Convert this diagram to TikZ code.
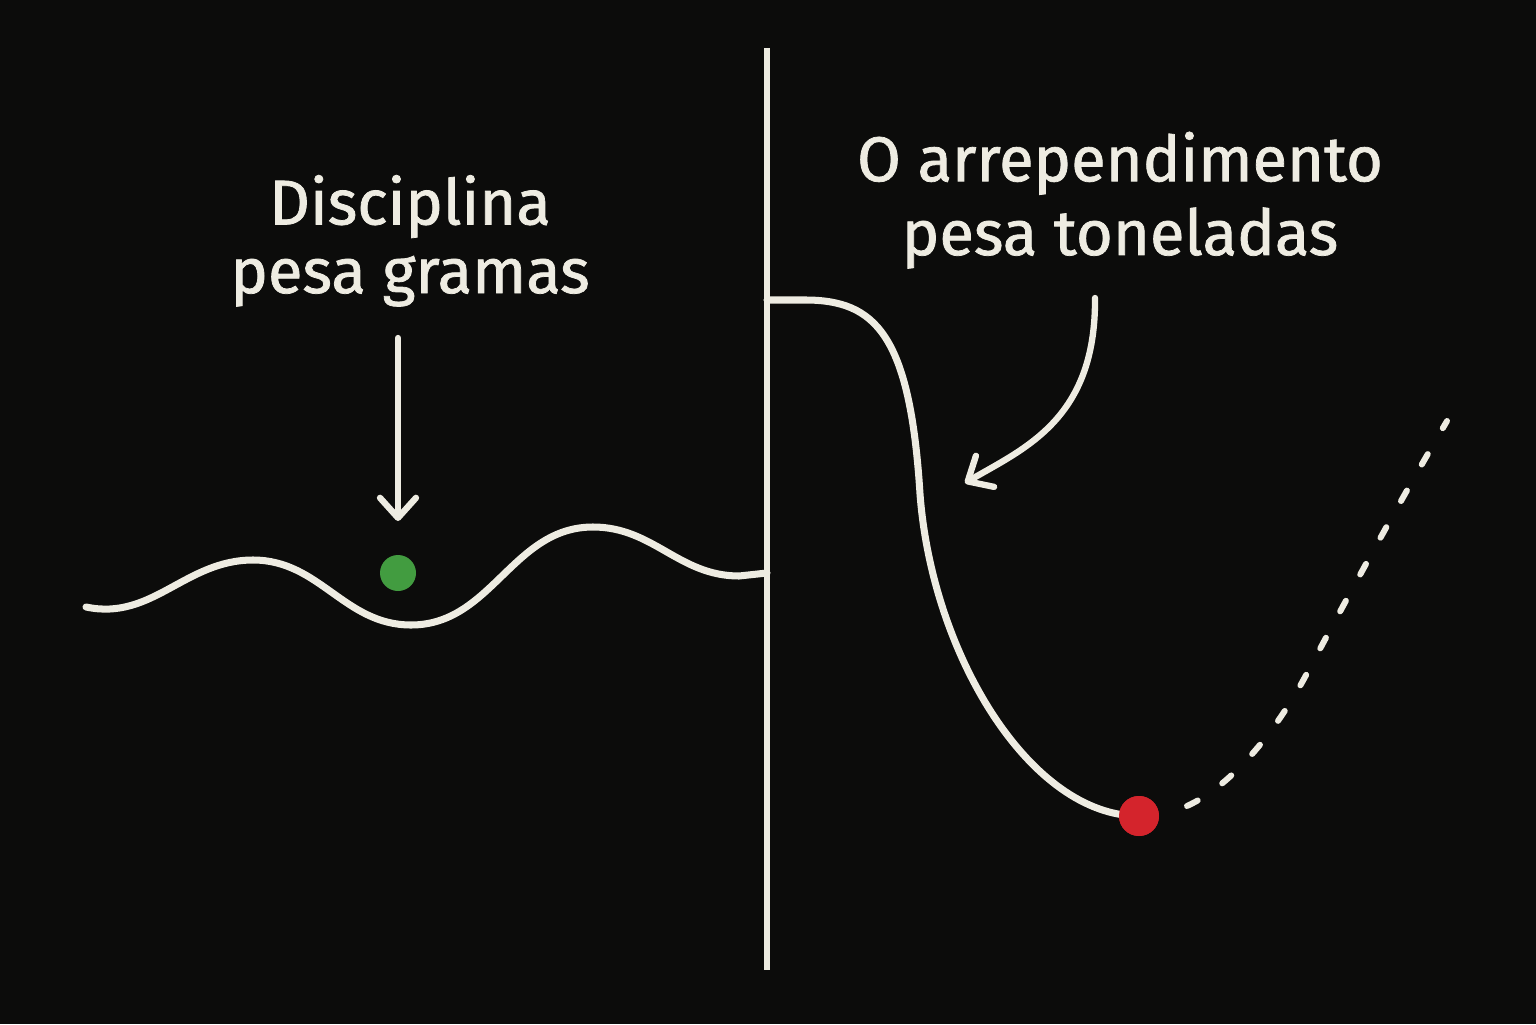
\documentclass[tikz,border=0pt]{standalone}
\usepackage{fontspec}
\setmainfont{Fira Sans}[FakeBold=1.2]
\usepackage{xcolor}
\usetikzlibrary{arrows.meta, positioning}

\definecolor{bgdark}{RGB}{12,12,11}
\definecolor{chalk}{RGB}{238,236,226}
\definecolor{okgreen}{RGB}{66,156,64}
\definecolor{badred}{RGB}{212,36,44}

\begin{document}
\begin{tikzpicture}[
    curve/.style={draw=chalk, line width=2pt, line cap=round, line join=round},
    divider/.style={draw=chalk, line width=1.6pt},
    pointer/.style={draw=chalk, line width=1.8pt, line cap=round, line join=round,
        -{Straight Barb[length=2mm, width=3.6mm, line cap=round, line join=round]}},
    future/.style={draw=chalk, line width=1.7pt, line cap=round, dash pattern=on 0.12cm off 0.30cm},
    caption/.style={text=chalk, align=center, font=\fontsize{18}{19.5}\selectfont, inner sep=0pt},
    dot/.style={circle, inner sep=0pt, minimum size=#1}
]
% background and page size
\fill[bgdark] (0,0) rectangle (15.36,10.24);
\useasboundingbox (0,0) rectangle (15.36,10.24);

% the dividing line
\coordinate (divtop) at (7.67,9.76);
\coordinate (divbottom) at (7.67,0.54);
\draw[divider] (divtop) -- (divbottom);

% labels (base = last line)
\node[caption, anchor=base] (gramas) at (4.10,7.31) {Disciplina\\pesa gramas};
\node[caption, anchor=base, font=\fontsize{18}{21}\selectfont] (toneladas) at (11.20,7.69) {O arrependimento\\pesa toneladas};

% small wave on the left
\coordinate (wave0) at (0.86,4.17);
\coordinate (wave1) at (2.53,4.64);
\coordinate (wave2) at (4.11,3.99);
\coordinate (wave3) at (5.93,4.97);
\coordinate (wave4) at (7.39,4.48);
\coordinate (wavejoin) at (7.67,4.51);
\draw[curve] (wave0) to[out=-12,in=180] (wave1) to[out=0,in=180] (wave2)
    to[out=0,in=180] (wave3) to[out=0,in=180] (wave4) -- (wavejoin);
\node[dot=0.36cm, fill=okgreen] (greendot) at (3.98,4.51) {};

% arrow down to the green dot
\coordinate (downtail) at (3.98,6.86);
\coordinate (downtip) at (3.98,5.03);
\draw[pointer] (downtail) -- (downtip);

% the big drop on the right
\coordinate (stepjoin) at (7.67,7.24);
\coordinate (stepbend) at (8.05,7.24);
\coordinate (stepmid) at (9.20,5.30);
\node[dot=0.40cm, fill=badred] (reddot) at (11.39,2.08) {};
\draw[curve] (stepjoin) -- (stepbend) .. controls (8.75,7.24) and (9.10,6.90) .. (stepmid)
    .. controls (9.32,3.70) and (10.30,2.08) .. (reddot.center);
\node[dot=0.40cm, fill=badred] at (reddot) {};

% curved arrow from the caption
\coordinate (curvetail) at (10.95,7.26);
\coordinate (curvetip) at (9.65,5.41);
\draw[pointer] (curvetail) .. controls (10.96,6.05) and (10.25,5.76) .. (curvetip);

% dashed way back up
\coordinate (dashstart) at (11.87,2.18);
\coordinate (dashturn) at (13.05,3.47);
\coordinate (dashend) at (14.47,6.03);
\draw[future] (dashstart) .. controls (12.35,2.40) and (12.78,2.97) .. (dashturn)
    .. controls (13.65,4.60) and (14.10,5.40) .. (dashend);
\end{tikzpicture}
\end{document}
